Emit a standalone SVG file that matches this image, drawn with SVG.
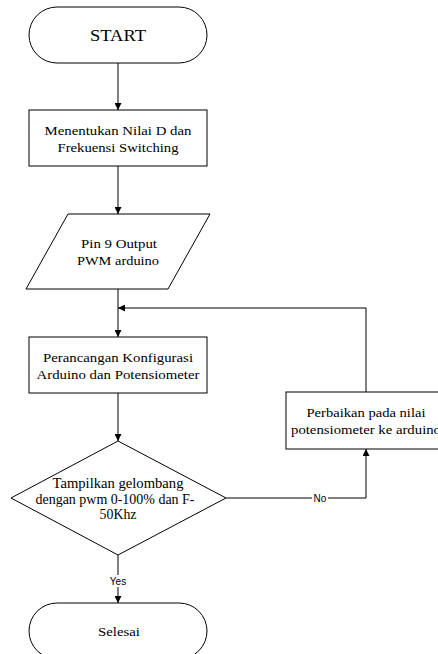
<svg xmlns="http://www.w3.org/2000/svg" width="438" height="654" viewBox="0 0 438 654">
<defs>
<style>
.s{fill:#fff;stroke:#000;stroke-width:1}
.t{font-family:"Liberation Serif","Times New Roman",serif;fill:#000;text-anchor:middle}
.l{fill:none;stroke:#000;stroke-width:1}
.lb{font-family:"Liberation Sans",Arial,sans-serif;font-size:10px;fill:#000;text-anchor:middle}
</style>
<marker id="a" viewBox="0 0 10 10" refX="10" refY="5" markerWidth="7" markerHeight="7" orient="auto" markerUnits="userSpaceOnUse">
<path d="M0,0 L10,5 L0,10 z" fill="#000"/>
</marker>
</defs>
<rect width="438" height="654" fill="#fff"/>
<g id="connectors">
<line class="l" x1="118" y1="63" x2="118" y2="110" marker-end="url(#a)"/>
<line class="l" x1="118" y1="166" x2="118" y2="214" marker-end="url(#a)"/>
<line class="l" x1="118" y1="289" x2="118" y2="337" marker-end="url(#a)"/>
<line class="l" x1="118" y1="393" x2="118" y2="441" marker-end="url(#a)"/>
<line class="l" x1="118" y1="555" x2="118" y2="603" marker-end="url(#a)"/>
<polyline class="l" points="226,498 366,498 366,449" marker-end="url(#a)"/>
<polyline class="l" points="366,392 366,308 118,308" marker-end="url(#a)"/>
<rect x="109" y="575" width="18" height="12" fill="#fff"/>
<text class="lb" x="118" y="585">Yes</text>
<rect x="312" y="492" width="16" height="12" fill="#fff"/>
<text class="lb" x="320" y="502">No</text>
</g>
<g id="start">
<rect class="s" x="29" y="7" width="178" height="56" rx="28" ry="28"/>
<text class="t" x="118" y="41" font-size="16" textLength="56" lengthAdjust="spacingAndGlyphs">START</text>
</g>
<g id="tentukan">
<rect class="s" x="29" y="110" width="178" height="56"/>
<text class="t" x="118" y="135" font-size="13" textLength="147" lengthAdjust="spacingAndGlyphs">Menentukan Nilai D dan</text>
<text class="t" x="118" y="152" font-size="13" textLength="121" lengthAdjust="spacingAndGlyphs">Frekuensi Switching</text>
</g>
<g id="pin9">
<polygon class="s" points="68,214 210,214 168,289 26,289"/>
<text class="t" x="119" y="248" font-size="13" textLength="76" lengthAdjust="spacingAndGlyphs">Pin 9 Output</text>
<text class="t" x="118" y="265" font-size="13" textLength="82" lengthAdjust="spacingAndGlyphs">PWM arduino</text>
</g>
<g id="perancangan">
<rect class="s" x="29" y="337" width="178" height="56"/>
<text class="t" x="118" y="362" font-size="13" textLength="150" lengthAdjust="spacingAndGlyphs">Perancangan Konfigurasi</text>
<text class="t" x="118" y="379" font-size="13" textLength="163" lengthAdjust="spacingAndGlyphs">Arduino dan Potensiometer</text>
</g>
<g id="tampilkan">
<polygon class="s" points="118,441 226,498 118,555 11,498"/>
<text class="t" x="118" y="488" font-size="14" textLength="131" lengthAdjust="spacingAndGlyphs">Tampilkan gelombang</text>
<text class="t" x="115" y="504" font-size="14" textLength="159" lengthAdjust="spacingAndGlyphs">dengan pwm 0-100% dan F-</text>
<text class="t" x="118" y="519" font-size="14" textLength="37" lengthAdjust="spacingAndGlyphs">50Khz</text>
</g>
<g id="perbaikan">
<rect class="s" x="286" y="392" width="160" height="57"/>
<text class="t" x="366" y="417" font-size="13" textLength="119" lengthAdjust="spacingAndGlyphs">Perbaikan pada nilai</text>
<text class="t" x="366" y="434" font-size="13" textLength="150" lengthAdjust="spacingAndGlyphs">potensiometer ke arduino</text>
</g>
<g id="selesai">
<rect class="s" x="29" y="603" width="178" height="56" rx="28" ry="28"/>
<text class="t" x="119" y="636" font-size="13" textLength="42" lengthAdjust="spacingAndGlyphs">Selesai</text>
</g>
</svg>
